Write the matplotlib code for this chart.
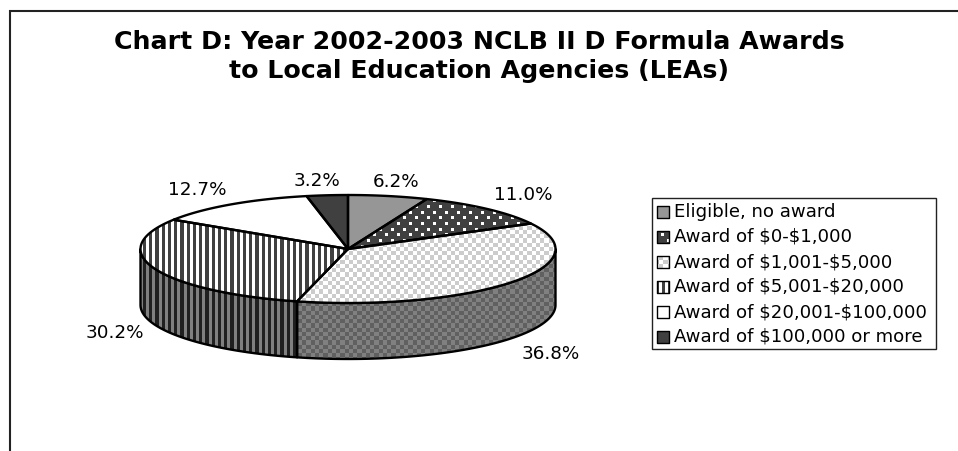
import numpy as np
import matplotlib
matplotlib.use("Agg")
import matplotlib.pyplot as plt
from matplotlib.patches import Polygon, Rectangle

plt.rcParams['font.family'] = ['DejaVu Sans']
plt.rcParams['text.parse_math'] = False

title = "Chart D: Year 2002-2003 NCLB II D Formula Awards\nto Local Education Agencies (LEAs)"
categories = ["Eligible, no award", "Award of $0-$1,000", "Award of $1,001-$5,000",
              "Award of $5,001-$20,000", "Award of $20,001-$100,000", "Award of $100,000 or more"]
shares = [6.2, 11.0, 36.8, 30.2, 12.7, 3.2]

W, H = 958, 451
# pie geometry in pixels
cx, cy, rx, ry, depth = 348, 249, 207.5, 54, 56
label_xy = [(396, 182), (523, 195), (551, 354), (115, 333), (197, 190), (317, 181)]

yy, xx = np.indices((H, W))


def solid(v):
    return np.full((H, W), v, dtype=float)


def checker(a, b, n=4.25):
    return np.where((np.floor(xx / n) + np.floor(yy / n)) % 2 == 0, a, b).astype(float)


def stripes(a, b, n=6.25):
    return np.where(((xx - 155) % n) < n / 2, a, b).astype(float)


def dots(bg, fg):
    rh = 5.67
    row = np.floor((yy - 204.5) / rh)
    on = ((xx - 438.5 + 6 * (row % 2)) % 12 < 3) & ((yy - 204.5) % rh < 3)
    return np.where(on, fg, bg).astype(float)


top_tex = [solid(150), dots(64, 255), checker(255, 204), stripes(64, 255), solid(255), solid(64)]
side_tex = [solid(100), dots(32, 128), checker(128, 96), stripes(32, 128), solid(128), solid(32)]

fig = plt.figure(figsize=(W / 100, H / 100), dpi=100)
ax = fig.add_axes([0, 0, 1, 1])


def textured(poly, tex, z, lw=1.7):
    im = ax.imshow(tex, cmap="gray", vmin=0, vmax=255, extent=(0, W, H, 0),
                   interpolation="nearest", aspect="auto", zorder=z)
    clip = Polygon(poly, closed=True, transform=ax.transData, fill=False, edgecolor="none")
    ax.add_patch(clip)
    im.set_clip_path(clip)
    ax.add_patch(Polygon(poly, closed=True, fill=False, edgecolor="black", linewidth=lw,
                         joinstyle="round", zorder=z + 0.5))


def arc(a, b, dy=0.0):
    t = np.linspace(a, b, 80)
    return np.column_stack([cx + rx * np.sin(t), cy - ry * np.cos(t) + dy])


# slice boundaries clockwise from twelve o'clock
cum = np.cumsum([0] + shares) / sum(shares) * 2 * np.pi
for i in range(len(shares)):
    a, b = max(cum[i], np.pi / 2), min(cum[i + 1], 3 * np.pi / 2)
    if b > a:
        textured(np.vstack([arc(a, b), arc(b, a, depth)]), side_tex[i], 2)
for i in range(len(shares)):
    textured(np.vstack([[(cx, cy)], arc(cum[i], cum[i + 1])]), top_tex[i], 3)

for v, (x, y) in zip(shares, label_xy):
    ax.text(x, y, f"{v:.1f}%", ha="center", va="center", fontsize=13.2, color="black")

ax.text(479, 56.5, title, ha="center", va="center", fontsize=18.2, fontweight="bold",
        linespacing=1.215, color="black")

# legend box
ax.add_patch(Rectangle((652, 198), 284, 151, facecolor="white", edgecolor="#222222",
                       linewidth=1, zorder=4))
for i, name in enumerate(categories):
    y = 212 + 25 * i
    sw = [(657, y - 6), (669, y - 6), (669, y + 6), (657, y + 6)]
    textured(sw, top_tex[i], 5, lw=1)
    ax.text(674, y, name, ha="left", va="center", fontsize=13.1, color="black", zorder=6)

# outer frame, open at the right and bottom
ax.plot([10.5, 10.5, W], [H, 10.5, 10.5], color="#222222", linewidth=1.5, zorder=1,
        solid_joinstyle="miter")

ax.set_xlim(0, W)
ax.set_ylim(H, 0)
ax.axis("off")
fig.savefig("out.png", dpi=100, facecolor="white")
